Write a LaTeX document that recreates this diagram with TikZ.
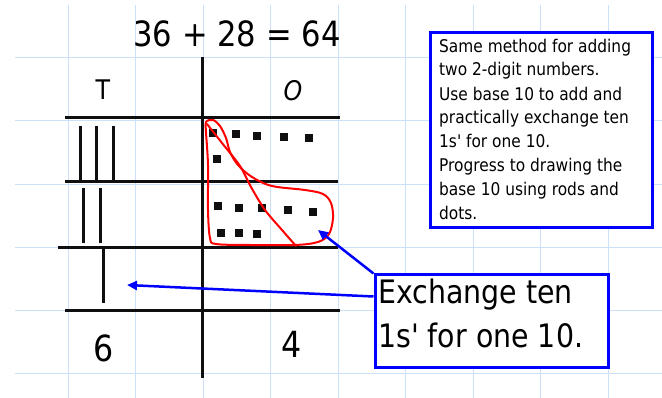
\documentclass[tikz,border=0pt]{standalone}
\usepackage{fontspec}
\newfontfamily\comic[FakeStretch=0.88]{DejaVu Sans}
\usetikzlibrary{arrows.meta}
\definecolor{gridblue}{RGB}{205,224,250}
\definecolor{pureblue}{RGB}{0,0,255}
\definecolor{penred}{RGB}{255,0,0}
\definecolor{ink}{RGB}{15,15,15}
\begin{document}
\begin{tikzpicture}[x=1pt,y=-1pt,
  gridline/.style={draw=gridblue,line width=1pt},
  tableline/.style={draw=ink,line width=3pt},
  tally/.style={draw=ink,line width=3pt},
  dot/.style={fill=ink,minimum size=7.5pt,inner sep=0pt,outer sep=0pt},
  redpen/.style={draw=penred,line width=2pt,line join=round,line cap=round},
  bluebox/.style={draw=pureblue,line width=3pt,fill=white,inner sep=0pt},
  bluearrow/.style={draw=pureblue,line width=2.5pt,-{Triangle[length=10pt,width=9pt]}},
  handtext/.style={font=\comic,inner sep=0pt}
]
\useasboundingbox (0,0) rectangle (662,398);
\fill[white] (0,0) rectangle (662,398);
% grid paper
\foreach \x in {68,135.5,203,270.5,338,405.5,473,540.5,608}
  \draw[gridline] (\x,5) -- (\x,398);
\foreach \y in {58,121,184.5,247.7,311,374}
  \draw[gridline] (15,\y) -- (662,\y);
% place-value table
\draw[tableline] (202,57) -- (202,378);
\draw[tableline] (65,118) -- (340,118);
\draw[tableline] (65,182) -- (338,182);
\draw[tableline] (58,248) -- (338,248);
\draw[tableline] (65,311) -- (340,311);
% title and headings
\node[handtext,anchor=base,font=\comic\fontsize{34.8}{40}\selectfont] (title) at (237,47) {36 + 28 = 64};
\node[handtext,anchor=base,font=\comic\fontsize{27}{30}\selectfont] (tens) at (103,100) {T};
\node[handtext,anchor=base,font=\comic\itshape\fontsize{27}{30}\selectfont] (ones) at (293,101) {O};
\node[handtext,anchor=base,font=\comic\fontsize{36}{40}\selectfont] (six) at (104,362) {6};
\node[handtext,anchor=base,font=\comic\fontsize{36}{40}\selectfont] (four) at (292,358) {4};
% tally rods
\draw[tally] (80,126) -- (80,180);
\draw[tally] (96,126) -- (96,180);
\draw[tally] (113,126) -- (113,180);
\draw[tally] (83,188) -- (83,243);
\draw[tally] (100,188) -- (100,243);
\draw[tally] (103,249) -- (103,303);
% ones dots
\foreach \p [count=\i] in {(213,133),(236,134),(257,136),(284,137),(309,138),(217,159),
                           (218,206),(239,208),(262,208),(288,210),(313,212),
                           (221,233),(239,233),(257,234)}
  \node[dot] (d\i) at \p {};
% red loop
\draw[redpen] plot[smooth cycle,tension=0.55] coordinates {
  (206,122) (213,120) (220,126) (226,138) (230,152) (238,165) (252,177)
  (272,186) (305,190) (323,194) (331,203) (333,218) (329,234) (318,242)
  (295,245) (250,245) (216,244) (210,238) (208,210) (208,165) (206,132)};
\draw[redpen] plot[smooth,tension=0.5] coordinates {
  (207,124) (222,143) (240,166) (251,187) (265,210) (282,230) (296,246)};
% note box
\node[bluebox,minimum width=222pt,minimum height=195pt] (note) at (541,130.5) {};
\node[handtext,anchor=base west,align=left,font=\comic\fontsize{17.5}{24}\selectfont] (notetext) at (439,220)
  {Same method for adding\\two 2-digit numbers.\\Use base 10 to add and\\practically exchange ten\\1s' for one 10.\\Progress to drawing the\\base 10 using rods and\\dots.};
% exchange box
\node[bluebox,minimum width=233pt,minimum height=93pt] (exch) at (491.5,321.5) {};
\node[handtext,anchor=base west,align=left,font=\comic\fontsize{32.3}{44}\selectfont] (exchtext) at (378,348)
  {Exchange ten\\1s' for one 10.};
% arrows
\coordinate (loopend) at (318,230);
\coordinate (rodend) at (127,285);
\draw[bluearrow] (exch.north west) -- (loopend);
\draw[bluearrow] ([yshift=-23pt]exch.north west) -- (rodend);
\end{tikzpicture}
\end{document}
